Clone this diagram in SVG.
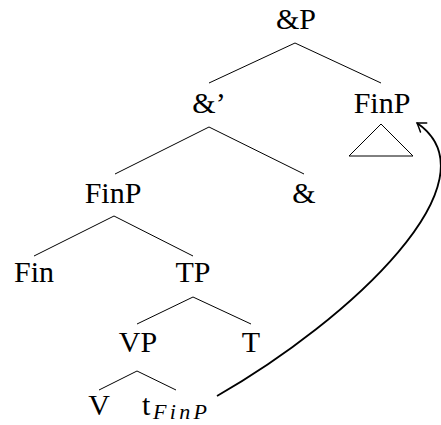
<svg xmlns="http://www.w3.org/2000/svg" width="441" height="425" viewBox="0 0 441 425">
<style>
text{font-family:"Liberation Serif","Times New Roman",serif;font-size:30px;fill:#000;text-anchor:middle}
.e{stroke:#000;stroke-width:1;fill:none}
.sub{font-style:italic;font-size:22px;text-anchor:start}
</style>
<defs>
<marker id="ah" markerUnits="userSpaceOnUse" markerWidth="14" markerHeight="14" viewBox="-10 -7 12 14" refX="0" refY="0" orient="auto">
<path d="M -8,-5.5 Q -2.5,-1.5 0,0 Q -2.5,1.5 -8,5.5" fill="none" stroke="#000" stroke-width="1.5" stroke-linecap="round"/>
</marker>
</defs>
<g id="edges">
<path class="e" d="M295,43 L209,83 M295,43 L381,83"/>
<path class="e" d="M209,127 L115,174 M209,127 L304,174"/>
<path class="e" d="M381,124 L349,156 L413,156 Z"/>
<path class="e" d="M114,216 L34,256 M114,216 L193,256"/>
<path class="e" d="M193,297 L137,324 M193,297 L251,324"/>
<path class="e" d="M137,371 L99,390 M137,371 L176,390"/>
</g>
<g id="n-andP"><text x="296" y="29">&amp;P</text></g>
<g id="n-andbar"><text x="209" y="113">&amp;’</text></g>
<g id="n-finP-top"><text x="382" y="113">FinP</text></g>
<g id="n-finP"><text x="113" y="203">FinP</text></g>
<g id="n-and"><text x="304" y="203">&amp;</text></g>
<g id="n-fin"><text x="34" y="282">Fin</text></g>
<g id="n-TP"><text x="193" y="282">TP</text></g>
<g id="n-VP"><text x="138" y="352">VP</text></g>
<g id="n-T"><text x="251" y="352">T</text></g>
<g id="n-V"><text x="99" y="415">V</text></g>
<g id="n-t"><text x="142" y="415" style="text-anchor:start">t</text><text class="sub" x="153" y="419" textLength="54" lengthAdjust="spacing">FinP</text></g>
<g id="connectors">
<path d="M217,396 C350,320 500,180 417,123" fill="none" stroke="#000" stroke-width="1.8" marker-end="url(#ah)"/>
</g>
</svg>
